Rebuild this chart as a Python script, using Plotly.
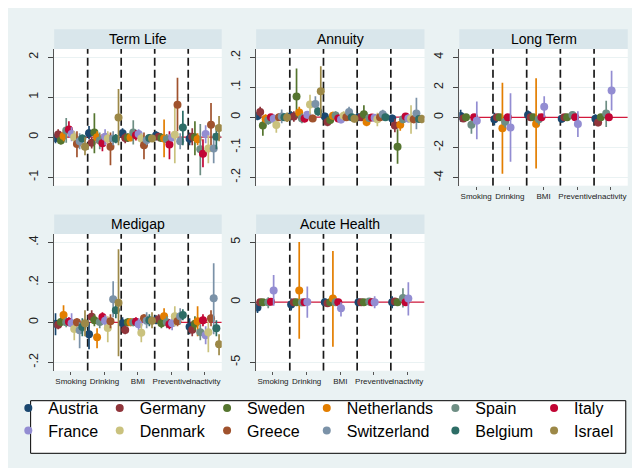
import plotly.graph_objects as go

countries = ["Austria", "Germany", "Sweden", "Netherlands", "Spain", "Italy",
             "France", "Denmark", "Greece", "Switzerland", "Belgium", "Israel"]
colors = ["#1a476f", "#90353b", "#55752f", "#e37e00", "#6e8e84", "#c10534",
          "#938dd2", "#cac27e", "#a0522d", "#7b92a8", "#2d6d66", "#9c8847"]
behaviours = ["Smoking", "Drinking", "BMI", "Preventive", "Inactivity"]
panel_titles = ["Term Life", "Annuity", "Long Term", "Medigap", "Acute Health"]
N = None

# ---- Term Life: [behaviour][country]
term_est = [
    [-0.02, 0.07, -0.08, 0.03, 0.17, 0.19, 0.08, 0.0, -0.17, -0.1, -0.03, -0.24],
    [0.10, -0.14, 0.12, 0.0, -0.08, -0.15, 0.01, -0.03, -0.24, -0.03, -0.04, 0.49],
    [0.10, -0.02, -0.01, -0.01, 0.12, 0.05, 0.08, -0.03, -0.20, -0.07, -0.02, -0.03],
    [0.04, 0.01, -0.02, -0.03, -0.05, -0.18, -0.01, 0.06, 0.81, -0.10, 0.24, N],
    [-0.04, 0.01, 0.0, -0.05, -0.30, -0.41, 0.08, -0.28, 0.31, -0.28, 0.01, 0.23],
]
term_lo = [
    [-0.15, -0.05, -0.18, -0.10, -0.14, 0.0, -0.10, -0.15, -0.50, -0.30, -0.12, -0.45],
    [-0.05, -0.28, -0.40, -0.15, -0.30, -0.35, -0.20, -0.20, -0.70, -0.20, -0.15, -0.20],
    [-0.03, -0.15, -0.12, -0.10, -0.18, -0.08, -0.05, -0.15, -0.55, -0.20, -0.10, -0.12],
    [-0.08, -0.10, -0.12, -0.50, -0.18, -0.55, -0.10, -0.65, 0.15, -0.30, -0.20, N],
    [-0.20, -0.20, -0.45, -0.20, -0.95, -0.75, -0.15, -0.65, -0.20, -0.65, -0.30, -0.10],
]
term_hi = [
    [0.12, 0.20, 0.02, 0.15, 0.48, 0.40, 0.25, 0.15, 0.15, 0.10, 0.07, 0.0],
    [0.28, 0.0, 0.60, 0.15, 0.12, 0.08, 0.20, 0.15, 0.12, 0.15, 0.08, 1.20],
    [0.22, 0.10, 0.10, 0.08, 0.42, 0.18, 0.20, 0.10, 0.12, 0.05, 0.08, 0.05],
    [0.15, 0.10, 0.10, 0.44, 0.08, 0.15, 0.10, 0.75, 1.48, 0.10, 0.66, N],
    [0.12, 0.22, 0.40, 0.10, 0.33, -0.05, 0.30, 0.05, 0.85, 0.10, 0.30, 0.53],
]

# ---- Annuity
ann_est = [
    [0.004, 0.017, -0.028, -0.005, -0.010, 0.0, -0.005, -0.026, 0.0, 0.002, 0.0, -0.001],
    [0.004, 0.002, 0.069, 0.016, -0.004, -0.004, 0.008, 0.042, -0.004, 0.044, 0.019, 0.086],
    [0.002, -0.016, -0.009, 0.005, 0.006, -0.004, -0.008, 0.005, 0.0, 0.017, 0.0, -0.005],
    [0.0, 0.0, 0.010, -0.016, -0.003, -0.001, -0.002, -0.007, 0.0, 0.010, 0.0, N],
    [-0.004, -0.028, -0.098, -0.025, -0.007, 0.002, -0.004, -0.005, -0.007, 0.012, -0.006, -0.006],
]
ann_lo = [
    [-0.010, 0.0, -0.062, -0.020, -0.025, -0.010, -0.020, -0.052, -0.012, -0.020, -0.012, -0.016],
    [-0.010, -0.015, 0.0, 0.0, -0.020, -0.018, -0.005, 0.010, -0.015, 0.020, 0.005, 0.0],
    [-0.010, -0.030, -0.022, -0.008, -0.008, -0.015, -0.020, -0.010, -0.010, 0.0, -0.010, -0.018],
    [-0.010, -0.010, -0.020, -0.030, -0.015, -0.012, -0.015, -0.030, -0.010, -0.005, -0.010, N],
    [-0.015, -0.050, -0.155, -0.045, -0.020, -0.010, -0.018, -0.055, -0.020, -0.040, -0.018, -0.020],
]
ann_hi = [
    [0.018, 0.035, -0.005, 0.010, 0.005, 0.010, 0.010, -0.003, 0.012, 0.026, 0.012, 0.016],
    [0.020, 0.020, 0.162, 0.035, 0.012, 0.010, 0.020, 0.075, 0.008, 0.070, 0.033, 0.170],
    [0.015, 0.0, 0.005, 0.018, 0.020, 0.008, 0.005, 0.020, 0.010, 0.035, 0.010, 0.008],
    [0.010, 0.010, 0.040, -0.002, 0.010, 0.010, 0.010, 0.015, 0.010, 0.025, 0.010, N],
    [0.008, -0.005, -0.040, -0.005, 0.006, 0.014, 0.010, 0.040, 0.006, 0.065, 0.006, 0.008],
]

# ---- Long Term (only 7 countries observed)
ltc_est = [
    [0.09, -0.07, 0.0, N, -0.50, 0.0, -0.23, N, N, N, N, N],
    [-0.13, 0.0, 0.0, -0.73, -0.29, 0.0, -0.67, N, N, N, N, N],
    [0.15, 0.0, 0.0, -0.45, -0.13, 0.0, 0.70, N, N, N, N, N],
    [-0.09, 0.0, 0.0, N, 0.15, 0.0, -0.45, N, N, N, N, N],
    [-0.10, -0.35, 0.0, N, 0.25, 0.0, 1.78, N, N, N, N, N],
]
ltc_lo = [
    [-0.30, -0.30, -0.15, N, -1.10, -0.10, -1.45, N, N, N, N, N],
    [-0.55, -0.10, -0.10, -3.75, -0.70, -0.10, -2.95, N, N, N, N, N],
    [-0.15, -0.10, -0.10, -3.40, -0.50, -0.10, 0.0, N, N, N, N, N],
    [-0.35, -0.10, -0.10, N, -0.10, -0.10, -1.30, N, N, N, N, N],
    [-0.40, -0.60, -0.10, N, -0.65, -0.10, 0.45, N, N, N, N, N],
]
ltc_hi = [
    [0.50, 0.15, 0.15, N, -0.10, 0.10, 1.05, N, N, N, N, N],
    [0.30, 0.10, 0.10, 2.30, 0.10, 0.10, 1.60, N, N, N, N, N],
    [0.45, 0.10, 0.10, 2.60, 0.25, 0.10, 1.40, N, N, N, N, N],
    [0.15, 0.10, 0.10, N, 0.40, 0.10, 0.40, N, N, N, N, N],
    [0.20, -0.10, 0.10, N, 1.10, 0.10, 3.10, N, N, N, N, N],
]

# ---- Medigap
med_est = [
    [-0.007, -0.012, 0.002, 0.037, 0.0, 0.003, -0.005, -0.033, 0.0, -0.040, -0.023, -0.005],
    [-0.060, 0.028, 0.010, -0.075, 0.002, 0.027, 0.008, -0.028, 0.005, 0.115, 0.060, 0.098],
    [-0.005, -0.038, 0.0, 0.0, 0.0, 0.003, -0.010, -0.052, 0.020, 0.008, 0.010, 0.008],
    [0.012, 0.015, -0.005, 0.030, 0.0, -0.010, -0.005, 0.030, 0.005, 0.030, 0.037, N],
    [-0.022, -0.037, -0.007, 0.005, -0.050, 0.010, -0.065, -0.050, 0.020, 0.120, -0.030, -0.110],
]
med_lo = [
    [-0.065, -0.035, -0.020, 0.0, -0.025, -0.020, -0.040, -0.090, -0.020, -0.130, -0.070, -0.070],
    [-0.135, 0.0, -0.020, -0.130, -0.030, 0.005, -0.020, -0.100, -0.030, 0.025, 0.020, -0.170],
    [-0.030, -0.060, -0.020, -0.020, -0.020, -0.020, -0.040, -0.100, 0.0, -0.030, -0.020, -0.030],
    [-0.010, -0.010, -0.030, -0.005, -0.030, -0.035, -0.040, -0.020, -0.020, -0.010, 0.010, N],
    [-0.060, -0.070, -0.040, -0.070, -0.090, -0.020, -0.110, -0.150, -0.020, -0.060, -0.070, -0.165],
]
med_hi = [
    [0.045, 0.010, 0.025, 0.085, 0.025, 0.025, 0.045, 0.0, 0.020, 0.0, 0.020, 0.060],
    [0.0, 0.060, 0.040, -0.030, 0.030, 0.050, 0.035, 0.030, 0.040, 0.205, 0.100, 0.365],
    [0.025, -0.015, 0.020, 0.020, 0.020, 0.025, 0.020, -0.005, 0.040, 0.050, 0.040, 0.050],
    [0.035, 0.040, 0.020, 0.070, 0.030, 0.015, 0.030, 0.080, 0.030, 0.070, 0.065, N],
    [0.020, 0.0, 0.030, 0.080, -0.010, 0.040, -0.020, 0.030, 0.060, 0.295, 0.010, -0.060],
]

# ---- Acute Health (only 7 countries observed)
acu_est = [
    [-0.44, 0.0, 0.0, N, 0.0, 0.03, 0.98, N, N, N, N, N],
    [-0.20, 0.0, 0.0, 0.98, -0.02, 0.0, 0.01, N, N, N, N, N],
    [0.0, -0.10, 0.0, 0.30, 0.0, 0.0, -0.50, N, N, N, N, N],
    [0.0, 0.0, 0.0, N, 0.05, 0.0, 0.0, N, N, N, N, N],
    [0.0, 0.05, 0.0, N, 0.35, 0.0, 0.30, N, N, N, N, N],
]
acu_lo = [
    [-0.90, -0.20, -0.15, N, -0.50, -0.15, -0.30, N, N, N, N, N],
    [-0.70, -0.15, -0.15, -3.05, -0.30, -0.15, -1.30, N, N, N, N, N],
    [-0.30, -0.30, -0.15, -3.70, -0.30, -0.15, -1.20, N, N, N, N, N],
    [-0.20, -0.15, -0.15, N, -0.30, -0.15, -0.50, N, N, N, N, N],
    [-0.50, -0.15, -0.15, N, -0.45, -0.15, -1.10, N, N, N, N, N],
]
acu_hi = [
    [0.0, 0.20, 0.15, N, 0.40, 0.20, 2.25, N, N, N, N, N],
    [0.30, 0.15, 0.15, 5.00, 0.30, 0.15, 1.30, N, N, N, N, N],
    [0.30, 0.10, 0.15, 4.25, 0.30, 0.15, 0.0, N, N, N, N, N],
    [0.20, 0.15, 0.15, N, 0.35, 0.15, 0.50, N, N, N, N, N],
    [0.50, 0.25, 0.15, N, 1.15, 0.15, 1.65, N, N, N, N, N],
]

# y tick labels per panel
term_ticks = [-1, 0, 1, 2]
term_ticktext = ["-1", "0", "1", "2"]
ann_ticks = [-0.2, -0.1, 0, 0.1, 0.2]
ann_ticktext = ["-.2", "-.1", "0", ".1", ".2"]
ltc_ticks = [-4, -2, 0, 2, 4]
ltc_ticktext = ["-4", "-2", "0", "2", "4"]
med_ticks = [-0.2, 0, 0.2, 0.4]
med_ticktext = ["-.2", "0", ".2", ".4"]
acu_ticks = [-5, 0, 5]
acu_ticktext = ["-5", "0", "5"]

panels = [
    (term_est, term_lo, term_hi, term_ticks, term_ticktext, [-1.21, 2.2]),
    (ann_est, ann_lo, ann_hi, ann_ticks, ann_ticktext, [-0.228, 0.227]),
    (ltc_est, ltc_lo, ltc_hi, ltc_ticks, ltc_ticktext, [-4.55, 4.55]),
    (med_est, med_lo, med_hi, med_ticks, med_ticktext, [-0.242, 0.4415]),
    (acu_est, acu_lo, acu_hi, acu_ticks, acu_ticktext, [-5.7, 5.67]),
]

W, H = 640, 468
FONT = "Liberation Sans, Arial, Helvetica, sans-serif"
col_px = [(44.3, 212.4), (246.9, 415.8), (450.7, 619.7)]
row_px = [(41.0, 177.7), (226.0, 362.7)]
strip_px = [(21.3, 41.0), (206.5, 226.0)]
grid_pos = [(0, 0), (0, 1), (0, 2), (1, 0), (1, 1)]
show_xlabels = [False, False, True, True, True]

def px_x(v):
    return v / W

def px_y(v):
    return 1 - v / H

fig = go.Figure()
layout = dict(
    width=W, height=H, margin=dict(l=0, r=0, t=0, b=0),
    paper_bgcolor="#eaf2f3", plot_bgcolor="white",
    font=dict(family=FONT, color="black"),
    showlegend=True,
)
shapes = []
annotations = []

ncat = len(behaviours)
for p, (est, lo, hi, tv, tt, yr) in enumerate(panels):
    r, c = grid_pos[p]
    sfx = "" if p == 0 else str(p + 1)
    xa, ya = "x" + sfx, "y" + sfx
    xr = [0.5, ncat + 0.5]
    layout["xaxis" + sfx] = dict(
        domain=[px_x(col_px[c][0]), px_x(col_px[c][1])],
        anchor=ya, range=xr,
        tickvals=list(range(1, ncat + 1)),
        ticktext=behaviours if show_xlabels[p] else [""] * ncat,
        ticks="outside" if show_xlabels[p] else "", ticklen=3, tickcolor="#555",
        tickangle=0,
        tickfont=dict(size=8, color="#222"),
        showgrid=False, zeroline=False, showline=False,
    )
    layout["yaxis" + sfx] = dict(
        domain=[px_y(row_px[r][1]), px_y(row_px[r][0])],
        anchor=xa, range=yr, tickvals=tv, ticktext=tt,
        tickangle=-90, ticks="outside", ticklen=5, tickcolor="#444",
        ticklabelstandoff=5,
        tickfont=dict(size=12.5, color="#222"),
        showgrid=True, gridcolor="#eaf2f3", gridwidth=1,
        zeroline=False, showline=True, linecolor="#555", linewidth=1,
    )
    # title strip
    shapes.append(dict(type="rect", xref="paper", yref="paper",
                       x0=px_x(col_px[c][0]), x1=px_x(col_px[c][1]),
                       y0=px_y(strip_px[r][1]), y1=px_y(strip_px[r][0]),
                       fillcolor="#d9e6eb", line=dict(width=0), layer="below"))
    annotations.append(dict(text=panel_titles[p], xref="paper", yref="paper",
                            x=px_x((col_px[c][0] + col_px[c][1]) / 2),
                            y=px_y((strip_px[r][0] + strip_px[r][1]) / 2),
                            xanchor="center", yanchor="middle", showarrow=False,
                            font=dict(size=14, color="black", family=FONT)))
    # reference line at zero
    shapes.append(dict(type="line", xref=xa, yref=ya, x0=xr[0], x1=xr[1], y0=0, y1=0,
                       line=dict(color="#d2193c", width=1.2), layer="between"))
    # dashed separators between behaviours
    for b in range(1, ncat):
        shapes.append(dict(type="line", xref=xa, yref=ya,
                           x0=b + 0.5, x1=b + 0.5, y0=yr[0], y1=yr[1],
                           line=dict(color="#1a1a1a", width=1.7, dash="8px,4px"),
                           layer="between"))
    # points with CIs
    for k, name in enumerate(countries):
        xs, ys, ep, em = [], [], [], []
        for g in range(ncat):
            v = est[g][k]
            if v is None:
                continue
            xs.append(g + 1 - 0.02 + (k - 5.5) * 0.08)
            ys.append(v)
            ep.append(hi[g][k] - v)
            em.append(v - lo[g][k])
        if not xs:
            continue
        leg_name = "legend" if k == 0 else "legend%d" % (k + 1)
        fig.add_trace(go.Scatter(
            x=xs, y=ys, mode="markers", name=name,
            xaxis=xa, yaxis=ya,
            marker=dict(color=colors[k], size=8, line=dict(width=0)),
            error_y=dict(type="data", array=ep, arrayminus=em, width=0,
                         thickness=1.7, color=colors[k]),
            showlegend=(p == 0), legend=leg_name,
            hovertemplate=name + ": %{y}<extra></extra>",
        ))

# legend frame
shapes.append(dict(type="rect", xref="paper", yref="paper",
                   x0=px_x(20.7), x1=px_x(617.7), y0=px_y(445.3), y1=px_y(392.7),
                   fillcolor="white", line=dict(color="black", width=1), layer="below"))

leg_text_px = [43.3, 135.0, 242.7, 342.7, 471.7, 570.7]
leg_rows_px = [400.0, 422.7]
for k in range(len(countries)):
    leg_name = "legend" if k == 0 else "legend%d" % (k + 1)
    layout[leg_name] = dict(
        x=px_x(leg_text_px[k % 6] - 45), y=px_y(leg_rows_px[k // 6]),
        xanchor="left", yanchor="middle", orientation="v",
        bgcolor="rgba(0,0,0,0)", borderwidth=0,
        font=dict(size=16, color="black", family=FONT),
    )

layout["shapes"] = shapes
layout["annotations"] = annotations
fig.update_layout(**layout)
fig.write_html("out.html")
